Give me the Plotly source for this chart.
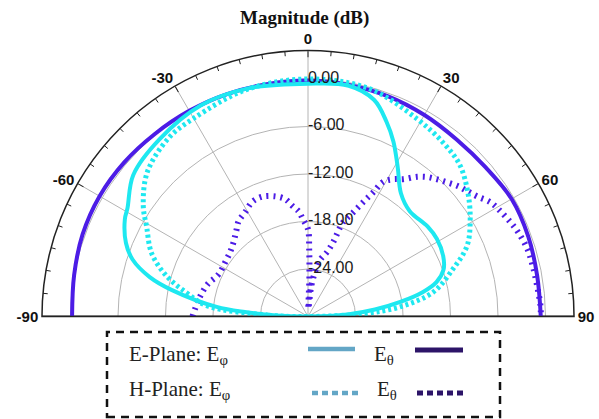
import plotly.graph_objects as go

# Radiation patterns, magnitude in dB versus angle in degrees
e_theta_ang = [-90, -80, -70, -60, -50, -40, -30, -20, -10, 0, 10, 20, 30, 40, 50, 60, 70, 80, 90]
e_theta_db = [-0.2, 0.0, 0.3, 0.4, 0.3, 0.1, 0.0, -0.1, -0.2, -0.2, -0.3, -0.4, -0.6, -0.8, -0.7, -0.3, -0.4, -0.6, -0.6]

e_phi_ang = [-90, -88, -86, -84, -79, -76, -72, -68, -62, -59, -51, -40, -27, -15, 0, 10, 17, 22, 26, 31,
             37, 44, 53, 59, 66, 71, 75, 78, 81, 84, 87, 90]
e_phi_db = [-30, -26, -22, -18.4, -12.5, -9.4, -6.7, -5.2, -3.8, -3.4, -1.6, -0.8, -0.1, -0.2, -0.6, -0.4, -1.4, -3.5, -5.4, -8.0,
            -10.5, -11.5, -11.1, -11.0, -11.3, -11.9, -13.2, -15.2, -18.2, -21.5, -25, -30]

h_phi_ang = [-90, -88, -84, -79, -74, -68, -61, -56, -48, -38, -30, -15, 0, 15, 29, 38, 45, 52, 59, 66,
             72, 79, 84, 87, 90]
h_phi_db = [-30, -25, -17.2, -14.4, -11.4, -8.7, -6.7, -4.9, -2.7, -1.4, -1.1, -0.3, 0.0, -0.2, -1.5, -2.2, -2.9, -4.4, -6.1, -8.0,
            -10.8, -13.9, -18.3, -23, -30]

h_theta_ang = [-90, -80, -72, -65, -57, -50, -45, -40, -36, -31, -26, -21, -15, -11, -8, -5, -3, 0, 1, 2, 3, 6, 9, 12,
               16.5, 18.7, 20.4, 23.4, 25.8, 27.7, 29.2, 31.8, 34.7, 38, 40.6, 43.3, 46, 49, 51.8, 54.6, 58, 61.3,
               65, 68.2, 73, 77.5, 82.5, 87.5, 90]
h_theta_db = [-15.4, -16.1, -16.7, -17.5, -17.5, -17.2, -16.7, -15.9, -15.1, -14.6, -13.9, -13.8, -14.3, -14.9, -15.9, -16.7,
              -17.7, -19.0, -21.5, -25.0, -29.0, -26.2, -24.3, -22.7, -21.5, -20.1, -17.3, -15.7, -13.9, -12.3, -10.5,
              -9.6, -8.9, -7.6, -6.8, -6.2, -5.6, -4.9, -4.4, -3.8, -2.8, -2.3, -1.8, -1.4, -1.0, -0.9, -0.8, -0.6, -0.6]

r_min, r_max = -30, 3.6
radial_ticks = [-24, -18, -12, -6, 0]
radial_text = ["-24.00", "-18.00", "-12.00", "-6.00", "0.00"]
angle_grid = [-60, -30, 0, 30, 60]
angle_labels = [-90, -60, -30, 0, 30, 60, 90]
minor_step = 5

PURPLE = "#4c1ce6"
CYAN = "#1ee8f0"
GRID = "#b4b4b4"

fig = go.Figure()

# spoke gridlines every 30 degrees
for a in angle_grid:
    fig.add_trace(go.Scatterpolar(r=[r_min, r_max], theta=[a, a], mode="lines",
                                  line=dict(color=GRID, width=1), hoverinfo="skip", showlegend=False))

# minor 5-degree ticks hanging inside the outer arc
minor_r, minor_t = [], []
for a in range(-90 + minor_step, 90, minor_step):
    if a % 30:
        minor_r += [r_max, r_max - 0.6, None]
        minor_t += [a, a, None]
fig.add_trace(go.Scatterpolar(r=minor_r, theta=minor_t, mode="lines", connectgaps=False,
                              line=dict(color="#222222", width=1), hoverinfo="skip", showlegend=False))

# straight edge of the half plane
fig.add_trace(go.Scatterpolar(r=[r_max, r_min, r_max], theta=[-90, -90, 90], mode="lines",
                              line=dict(color="#333333", width=2), hoverinfo="skip", showlegend=False))

fig.add_trace(go.Scatterpolar(r=e_theta_db, theta=e_theta_ang, mode="lines", name="E-Plane E\u03b8",
                              line=dict(color=PURPLE, width=4, shape="spline"), showlegend=False))
fig.add_trace(go.Scatterpolar(r=h_theta_db, theta=h_theta_ang, mode="lines", name="H-Plane E\u03b8",
                              line=dict(color=PURPLE, width=6, dash="2px,5px", shape="spline"), showlegend=False))
fig.add_trace(go.Scatterpolar(r=e_phi_db, theta=e_phi_ang, mode="lines", name="E-Plane E\u03c6",
                              line=dict(color=CYAN, width=4, shape="spline"), showlegend=False))
fig.add_trace(go.Scatterpolar(r=h_phi_db, theta=h_phi_ang, mode="lines", name="H-Plane E\u03c6",
                              line=dict(color=CYAN, width=5, dash="3px,3px", shape="spline"), showlegend=False))

# radial scale labels along the 0-degree spoke, kept horizontal
fig.add_trace(go.Scatterpolar(r=radial_ticks, theta=[0] * len(radial_ticks), mode="text",
                              text=radial_text, textposition="middle right",
                              textfont=dict(family="Liberation Sans", size=16, color="#1a1a1a"),
                              hoverinfo="skip", showlegend=False))

fig.update_layout(
    width=599, height=419,
    margin=dict(l=0, r=0, t=0, b=0),
    paper_bgcolor="white",
    polar=dict(
        domain=dict(x=[0.0701, 0.9583], y=[0.2434, 0.8807]),
        sector=[0, 180],
        bgcolor="white",
        radialaxis=dict(
            range=[r_min, r_max], angle=90,
            tickmode="array", tickvals=radial_ticks, showticklabels=False,
            showline=False, ticks="", showgrid=True, gridcolor=GRID, gridwidth=1,
        ),
        angularaxis=dict(
            rotation=90, direction="clockwise",
            tickmode="array", tickvals=angle_labels, ticktext=[str(a) for a in angle_labels],
            ticks="inside", ticklen=6, tickcolor="#222222", tickwidth=1,
            showline=True, linecolor="#222222", linewidth=1.5, showgrid=False,
            tickfont=dict(family="Liberation Sans", size=15, color="#111111", weight="bold"),
        ),
    ),
)

W, H = 599, 419
def px(x):
    return x / W
def py(y):
    return 1 - y / H

fig.add_annotation(text="<b>Magnitude (dB)</b>", x=px(304), y=py(18), xref="paper", yref="paper",
                   xanchor="center", yanchor="middle", showarrow=False,
                   font=dict(family="Liberation Serif", size=19, color="#111111"))

# legend panel
fig.add_shape(type="rect", x0=px(107), x1=px(500), y0=py(417), y1=py(332), xref="paper", yref="paper",
              line=dict(color="#111111", width=2.5, dash="8px,6px"), fillcolor="rgba(0,0,0,0)")
legend_font = dict(family="Liberation Serif", size=21, color="#222222")
for label, x, y in [("E-Plane: E<sub>\u03c6</sub>", 127, 355), ("H-Plane: E<sub>\u03c6</sub>", 127, 390),
                    ("E<sub>\u03b8</sub>", 372, 355), ("E<sub>\u03b8</sub>", 375, 390)]:
    fig.add_annotation(text=label, x=px(x), y=py(y), xref="paper", yref="paper",
                       xanchor="left", yanchor="middle", showarrow=False, font=legend_font)
fig.add_shape(type="line", x0=px(308), x1=px(355), y0=py(349), y1=py(349), xref="paper", yref="paper",
              line=dict(color="#63a6c6", width=4.5))
fig.add_shape(type="line", x0=px(415), x1=px(463), y0=py(350), y1=py(350), xref="paper", yref="paper",
              line=dict(color="#2c1468", width=5))
fig.add_shape(type="line", x0=px(312), x1=px(360), y0=py(393), y1=py(393), xref="paper", yref="paper",
              line=dict(color="#63a6c6", width=4.5, dash="6px,4px"))
fig.add_shape(type="line", x0=px(417), x1=px(467), y0=py(393), y1=py(393), xref="paper", yref="paper",
              line=dict(color="#2c1468", width=5, dash="6px,4px"))

fig.write_html("out.html")
